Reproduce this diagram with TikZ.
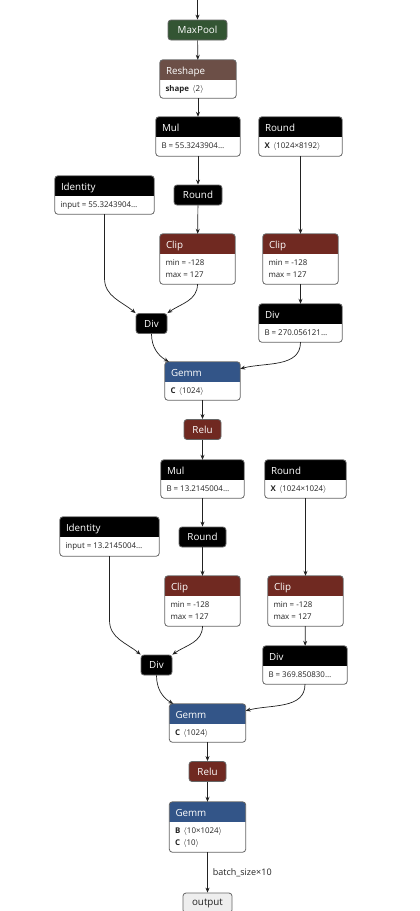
\documentclass[tikz,border=0pt]{standalone}
\usepackage{fontspec}
\setmainfont{Open Sans}
\usetikzlibrary{arrows.meta,fit}

\definecolor{cpool}{HTML}{335533}
\definecolor{cshape}{HTML}{6C4F47}
\definecolor{cact}{HTML}{702921}
\definecolor{clayer}{HTML}{335588}
\definecolor{cframe}{HTML}{666666}
\definecolor{ctext}{HTML}{222222}
\definecolor{cedge}{HTML}{222222}
\definecolor{cio}{HTML}{EEEEEE}

\newcommand\shp[1]{\,\ensuremath{\langle}#1\ensuremath{\rangle}}

\tikzset{
  frame/.style={draw=cframe, line width=0.8pt},
  hdr/.style={text=white, font=\fontsize{9.8}{12}\selectfont, inner sep=0pt},
  attr/.style={text=ctext, font=\fontsize{7.9}{10}\selectfont, inner sep=0pt},
  pill/.style={rounded corners=3pt, draw=cframe, line width=0.8pt, text=white,
    font=\fontsize{9.8}{12}\selectfont, inner sep=0pt, minimum height=20pt},
  iobox/.style={pill, fill=cio, text=ctext},
  edge/.style={draw=cedge, line width=0.7pt, -{Stealth[length=5pt,width=4pt]}},
}

% #1 name, #2 x1, #3 y1, #4 x2, #5 y2, #6 header colour, #7 title, #8 attribute lines
\newcommand\opbox[8]{%
  \coordinate (#1-a) at (#2,#3);
  \coordinate (#1-b) at (#4,#5);
  \node[fit=(#1-a)(#1-b), inner sep=0pt] (#1) {};
  \begin{scope}
    \clip[rounded corners=3pt] (#1.north west) rectangle (#1.south east);
    \fill[white] (#1.north west) rectangle (#1.south east);
    \fill[#6] (#1.north west) rectangle ([yshift=-20.5pt]#1.north east);
  \end{scope}
  \draw[frame, rounded corners=3pt] (#1.north west) rectangle (#1.south east);
  \node[hdr, anchor=base west] at ([xshift=6pt,yshift=-14.3pt]#1.north west) {#7};
  \foreach \ln [count=\i] in {#8} {
    \node[attr, anchor=base west] at ([xshift=5.5pt,yshift={-32pt-11.8pt*(\i-1)}]#1.north west) {\ln};
  }
}

\begin{document}
\begin{tikzpicture}[x=1pt, y=-1pt]
\useasboundingbox (0,0) rectangle (420,911);
\fill[white] (0,0) rectangle (420,911);

% ---- first block ----
\coordinate (in) at (197.5,0);
\node[pill, fill=cpool, minimum width=59pt] (maxpool) at (197.5,30) {MaxPool};
\opbox{reshape}{160}{60}{236}{98}{cshape}{Reshape}{{\textbf{shape} \shp{2}}}
\opbox{mul}{156}{117}{240}{156}{black}{Mul}{{B = 55.3243904…}}
\opbox{roundx}{259}{117}{342}{156}{black}{Round}{{\textbf{X} \shp{1024×8192}}}
\opbox{ident}{55}{176}{154}{214}{black}{Identity}{{input = 55.3243904…}}
\node[pill, fill=black, minimum width=48pt] (round) at (198,195) {Round};
\opbox{clip}{160}{234}{235}{284}{cact}{Clip}{{min = -128},{max = 127}}
\opbox{clipr}{263}{234}{338}{284}{cact}{Clip}{{min = -128},{max = 127}}
\node[pill, fill=black, minimum width=31pt] (divs) at (151.5,323.5) {Div};
\opbox{divr}{259}{304}{342}{342}{black}{Div}{{B = 270.056121…}}
\opbox{gemm}{165}{362}{240}{400}{clayer}{Gemm}{{\textbf{C} \shp{1024}}}

\draw[edge] (in) -- (maxpool);
\draw[edge] (maxpool) -- (reshape);
\draw[edge] (reshape) -- (mul);
\draw[edge] (mul) -- (round);
\draw[edge] (round) -- (clip);
\draw[edge] (roundx) -- (clipr);
\draw[edge] (clipr) -- (divr);
\draw[edge] (ident.south) -- ([yshift=-64pt]ident.south) to[out=-90,in=140] (divs.north west);
\draw[edge] (clip.south) to[out=-90,in=35] (divs.north east);
\draw[edge] (divs.south) to[out=-90,in=150] ([xshift=4pt]gemm.north west);
\draw[edge] (divr.south) to[out=-90,in=15] ([yshift=-7pt]gemm.north east);

% ---- second block ----
\node[pill, fill=cact, minimum width=37pt] (relu) at (202.5,429.5) {Relu};
\opbox{mulb}{161}{460}{244}{498}{black}{Mul}{{B = 13.2145004…}}
\opbox{roundxb}{265}{460}{346}{498}{black}{Round}{{\textbf{X} \shp{1024×1024}}}
\opbox{identb}{60}{517}{159}{556}{black}{Identity}{{input = 13.2145004…}}
\node[pill, fill=black, minimum width=47pt] (roundb) at (202.5,537) {Round};
\opbox{clipb}{165}{576}{240}{626}{cact}{Clip}{{min = -128},{max = 127}}
\opbox{cliprb}{268}{576}{343}{626}{cact}{Clip}{{min = -128},{max = 127}}
\node[pill, fill=black, minimum width=31pt] (divsb) at (156.5,665) {Div};
\opbox{divrb}{263}{646}{347}{684}{black}{Div}{{B = 369.850830…}}
\opbox{gemmb}{169.5}{704}{245.5}{742}{clayer}{Gemm}{{\textbf{C} \shp{1024}}}

\draw[edge] (gemm) -- (relu);
\draw[edge] (relu) -- (mulb);
\draw[edge] (mulb) -- (roundb);
\draw[edge] (roundb) -- (clipb);
\draw[edge] (roundxb) -- (cliprb);
\draw[edge] (cliprb) -- (divrb);
\draw[edge] (identb.south) -- ([yshift=-64pt]identb.south) to[out=-90,in=140] (divsb.north west);
\draw[edge] (clipb.south) to[out=-90,in=35] (divsb.north east);
\draw[edge] (divsb.south) to[out=-90,in=150] ([xshift=4pt]gemmb.north west);
\draw[edge] (divrb.south) to[out=-90,in=15] ([yshift=-7pt]gemmb.north east);

% ---- output head ----
\node[pill, fill=cact, minimum width=37pt] (relub) at (207.5,771.5) {Relu};
\opbox{gemmc}{169.5}{802}{245.5}{852}{clayer}{Gemm}{{\textbf{B} \shp{10×1024}},{\textbf{C} \shp{10}}}
\node[iobox, minimum width=49pt] (output) at (207.5,903) {output};

\draw[edge] (gemmb) -- (relub);
\draw[edge] (relub) -- (gemmc);
\draw[edge] (gemmc) -- node[attr, anchor=west, xshift=5pt, font=\fontsize{9}{11}\selectfont] {batch\_size×10} (output);
\end{tikzpicture}
\end{document}
